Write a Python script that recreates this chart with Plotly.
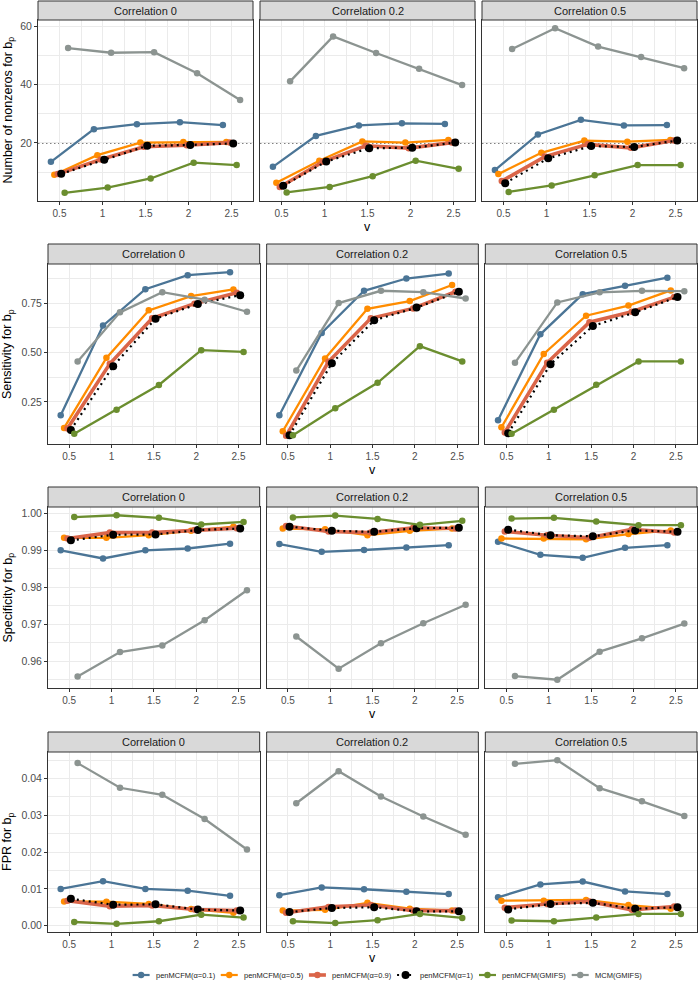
import plotly.graph_objects as go

W, H = 700, 990

v = [0.5, 1.0, 1.5, 2.0, 2.5]
methods = ["penMCFM(α=0.1)", "penMCFM(α=0.5)", "penMCFM(α=0.9)",
           "penMCFM(α=1)", "penMCFM(GMIFS)", "MCM(GMIFS)"]
correlations = ["Correlation 0", "Correlation 0.2", "Correlation 0.5"]
colors = ["#4B7596", "#FF8C00", "#DA6549", "#000000", "#6B8E2F", "#8C9491"]
dodge = [-0.1, -0.06, -0.02, 0.02, 0.06, 0.1]

# ---- Number of nonzeros for b_p (rows: methods, cols: v) ----
nonzeros_corr0 = [
    [13.5, 24.7, 26.4, 27.1, 26.1],
    [9.1, 15.8, 20.1, 20.3, 20.3],
    [9.3, 14.3, 18.7, 19.2, 20.1],
    [9.4, 14.2, 19.0, 19.3, 19.8],
    [2.9, 4.7, 7.8, 13.2, 12.4],
    [52.5, 50.9, 51.1, 43.9, 34.7],
]
nonzeros_corr02 = [
    [11.8, 22.4, 26.0, 26.7, 26.5],
    [6.3, 13.9, 20.5, 20.1, 21.0],
    [4.9, 13.5, 19.0, 18.2, 20.1],
    [5.3, 13.6, 18.2, 18.3, 20.1],
    [3.0, 4.9, 8.6, 13.9, 11.1],
    [41.1, 56.5, 50.8, 45.4, 39.8],
]
nonzeros_corr05 = [
    [10.7, 22.9, 27.9, 26.0, 26.1],
    [9.3, 16.6, 20.8, 20.4, 21.0],
    [6.9, 15.3, 19.5, 18.3, 20.8],
    [6.2, 14.7, 18.9, 18.6, 20.8],
    [3.2, 5.4, 8.9, 12.4, 12.4],
    [52.2, 59.3, 53.0, 49.4, 45.6],
]

# ---- Sensitivity for b_p ----
sens_corr0 = [
    [0.183, 0.636, 0.820, 0.891, 0.906],
    [0.119, 0.473, 0.713, 0.785, 0.819],
    [0.116, 0.443, 0.673, 0.747, 0.802],
    [0.109, 0.431, 0.671, 0.745, 0.790],
    [0.089, 0.211, 0.336, 0.512, 0.503],
    [0.455, 0.703, 0.805, 0.767, 0.706],
]
sens_corr02 = [
    [0.183, 0.599, 0.812, 0.874, 0.899],
    [0.102, 0.470, 0.721, 0.760, 0.841],
    [0.079, 0.453, 0.673, 0.723, 0.807],
    [0.082, 0.446, 0.663, 0.727, 0.807],
    [0.082, 0.218, 0.347, 0.532, 0.455],
    [0.409, 0.750, 0.812, 0.805, 0.773],
]
sens_corr05 = [
    [0.158, 0.592, 0.795, 0.837, 0.878],
    [0.122, 0.493, 0.686, 0.737, 0.814],
    [0.096, 0.448, 0.653, 0.706, 0.780],
    [0.092, 0.441, 0.634, 0.703, 0.780],
    [0.089, 0.211, 0.337, 0.455, 0.455],
    [0.448, 0.753, 0.804, 0.812, 0.810],
]

# ---- Specificity for b_p ----
spec_corr0 = [
    [0.9900, 0.9878, 0.9900, 0.9905, 0.9918],
    [0.9934, 0.9934, 0.9941, 0.9953, 0.9964],
    [0.9932, 0.9948, 0.9948, 0.9955, 0.9960],
    [0.9927, 0.9942, 0.9943, 0.9955, 0.9959],
    [0.9990, 0.9995, 0.9988, 0.9970, 0.9977],
    [0.9559, 0.9625, 0.9643, 0.9711, 0.9792],
]
spec_corr02 = [
    [0.9917, 0.9896, 0.9901, 0.9908, 0.9914],
    [0.9959, 0.9957, 0.9941, 0.9953, 0.9959],
    [0.9966, 0.9951, 0.9948, 0.9961, 0.9959],
    [0.9964, 0.9953, 0.9950, 0.9960, 0.9961],
    [0.9989, 0.9994, 0.9985, 0.9969, 0.9980],
    [0.9667, 0.9580, 0.9649, 0.9703, 0.9753],
]
spec_corr05 = [
    [0.9923, 0.9888, 0.9880, 0.9907, 0.9914],
    [0.9932, 0.9932, 0.9930, 0.9944, 0.9954],
    [0.9951, 0.9941, 0.9934, 0.9957, 0.9948],
    [0.9956, 0.9941, 0.9938, 0.9954, 0.9950],
    [0.9986, 0.9988, 0.9978, 0.9968, 0.9968],
    [0.9560, 0.9550, 0.9626, 0.9662, 0.9702],
]

# ---- FPR for b_p ----
fpr_corr0 = [
    [0.0100, 0.0121, 0.0100, 0.0095, 0.0081],
    [0.0066, 0.0065, 0.0059, 0.0045, 0.0035],
    [0.0068, 0.0053, 0.0055, 0.0044, 0.0041],
    [0.0073, 0.0057, 0.0058, 0.0044, 0.0041],
    [0.0010, 0.0005, 0.0012, 0.0030, 0.0022],
    [0.0442, 0.0375, 0.0356, 0.0290, 0.0207],
]
fpr_corr02 = [
    [0.0083, 0.0104, 0.0099, 0.0092, 0.0086],
    [0.0041, 0.0043, 0.0062, 0.0046, 0.0041],
    [0.0035, 0.0051, 0.0056, 0.0041, 0.0041],
    [0.0037, 0.0048, 0.0050, 0.0039, 0.0039],
    [0.0012, 0.0007, 0.0015, 0.0032, 0.0021],
    [0.0333, 0.0420, 0.0351, 0.0297, 0.0247],
]
fpr_corr05 = [
    [0.0077, 0.0112, 0.0120, 0.0093, 0.0086],
    [0.0068, 0.0068, 0.0070, 0.0056, 0.0046],
    [0.0049, 0.0059, 0.0066, 0.0043, 0.0052],
    [0.0044, 0.0059, 0.0062, 0.0046, 0.0050],
    [0.0014, 0.0012, 0.0022, 0.0032, 0.0032],
    [0.0440, 0.0450, 0.0374, 0.0338, 0.0298],
]

rows_data = [
    [nonzeros_corr0, nonzeros_corr02, nonzeros_corr05],
    [sens_corr0, sens_corr02, sens_corr05],
    [spec_corr0, spec_corr02, spec_corr05],
    [fpr_corr0, fpr_corr02, fpr_corr05],
]
y_titles = ["Number of nonzeros for b<sub>p</sub>", "Sensitivity for b<sub>p</sub>",
            "Specificity for b<sub>p</sub>", "FPR for b<sub>p</sub>"]
y_ticks = [
    dict(tick0=0, dtick=20, tickformat="d", minor_dtick=10),
    dict(tick0=0, dtick=0.25, tickformat=".2f", minor_dtick=0.125),
    dict(tick0=0, dtick=0.01, tickformat=".2f", minor_dtick=0.005),
    dict(tick0=0, dtick=0.01, tickformat=".2f", minor_dtick=0.005),
]
ref_line = [20, None, None, None]

# layout geometry (pixels)
strip_px = [(1, 20), (244, 264), (487, 507), (732, 752)]
plot_px = [(20, 201), (264, 444), (507, 688), (752, 932)]
left_px = [38, 48, 48, 48]
right_px = 697
gap_px = 7
vtitle_px = [227, 470, 714, 958]

xrange = [0.25, 2.75]

fig = go.Figure()
layout = dict(
    width=W, height=H, margin=dict(l=0, r=0, t=0, b=0),
    paper_bgcolor="white", plot_bgcolor="white", showlegend=False,
    font=dict(family="Liberation Sans, Arial, sans-serif", color="#1A1A1A"),
    shapes=[], annotations=[],
)

def ggrange(rowvals):
    vals = [y for panel in rowvals for series in panel for y in series]
    lo, hi = min(vals), max(vals)
    pad = 0.05 * (hi - lo)
    return [lo - pad, hi + pad]

grid = "#EBEBEB"
border = "#333333"

for r in range(4):
    yr = ggrange(rows_data[r])
    top, bot = plot_px[r]
    st, sb = strip_px[r]
    pw = (right_px - left_px[r] - 2 * gap_px) / 3
    for c in range(3):
        k = r * 3 + c + 1
        xn = "x" if k == 1 else f"x{k}"
        yn = "y" if k == 1 else f"y{k}"
        xl = left_px[r] + c * (pw + gap_px)
        xr = xl + pw
        layout["xaxis" if k == 1 else f"xaxis{k}"] = dict(
            domain=[xl / W, xr / W], anchor=yn, range=xrange,
            tick0=0.5, dtick=0.5, showgrid=True, gridcolor=grid, gridwidth=1.1,
            minor=dict(showgrid=True, gridcolor=grid, gridwidth=0.55, tick0=0.25, dtick=0.25),
            showline=True, mirror=True, linecolor=border, linewidth=1,
            ticks="outside", ticklen=3, tickcolor=border, tickwidth=1,
            tickfont=dict(size=10, color="#4D4D4D"), zeroline=False,
        )
        yt = y_ticks[r]
        layout["yaxis" if k == 1 else f"yaxis{k}"] = dict(
            domain=[1 - bot / H, 1 - top / H], anchor=xn, range=yr,
            tick0=yt["tick0"], dtick=yt["dtick"], tickformat=yt["tickformat"],
            showgrid=True, gridcolor=grid, gridwidth=1.1,
            minor=dict(showgrid=True, gridcolor=grid, gridwidth=0.55,
                       tick0=0, dtick=yt["minor_dtick"]),
            showline=True, mirror=True, linecolor=border, linewidth=1,
            ticks="outside" if c == 0 else "", ticklen=3, tickcolor=border,
            showticklabels=(c == 0),
            tickfont=dict(size=10.5, color="#4D4D4D"), zeroline=False,
        )
        # strip
        layout["shapes"].append(dict(
            type="rect", xref="paper", yref="paper",
            x0=xl / W, x1=xr / W, y0=1 - sb / H, y1=1 - st / H,
            fillcolor="#D9D9D9", line=dict(color=border, width=1), layer="above"))
        layout["annotations"].append(dict(
            text=correlations[c], xref="paper", yref="paper",
            x=(xl + xr) / 2 / W, y=1 - (st + sb) / 2 / H, showarrow=False,
            xanchor="center", yanchor="middle",
            font=dict(size=11, color="#1A1A1A")))
        if ref_line[r] is not None:
            layout["shapes"].append(dict(
                type="line", xref=f"{xn} domain", yref=yn, x0=0, x1=1,
                y0=ref_line[r], y1=ref_line[r],
                line=dict(color="black", width=1.1, dash="1.5px,2.5px"), layer="below"))
        if c == 1:
            layout["annotations"].append(dict(
                text="v", xref="paper", yref="paper",
                x=(xl + xr) / 2 / W, y=1 - vtitle_px[r] / H, showarrow=False,
                xanchor="center", yanchor="middle",
                font=dict(size=12.5, color="black")))
        # traces
        panel = rows_data[r][c]
        for m, name in enumerate(methods):
            is_black = (m == 3)
            lw = 3.6 if m == 2 else (2.2 if is_black else 2.3)
            fig.add_trace(go.Scatter(
                x=[vi + dodge[m] for vi in v], y=panel[m],
                mode="lines+markers", name=name, legendgroup=name,
                showlegend=False,
                line=dict(color=colors[m], width=lw,
                          dash="2px,4px" if is_black else "solid"),
                marker=dict(color=colors[m], size=8 if is_black else 6.5),
                xaxis=xn, yaxis=yn, hoverinfo="x+y+name",
            ))
    # y title
    layout["annotations"].append(dict(
        text=y_titles[r], xref="paper", yref="paper",
        x=8 / W, y=1 - (top + bot) / 2 / H, showarrow=False, textangle=-90,
        xanchor="center", yanchor="middle",
        font=dict(size=12.5, color="black")))

# ---- manual legend along the bottom (ggplot style) ----
leg_font = 7.5
leg_y = 975
key_w = 17
# approximate text widths (em units for Arial-like font)
em = {"p": .556, "e": .556, "n": .556, "M": .833, "C": .722, "F": .611, "(": .333,
      ")": .333, "α": .58, "=": .584, "0": .556, ".": .278, "1": .556, "5": .556,
      "9": .556, "G": .778, "I": .278, "S": .667}
widths = [sum(em.get(ch, .55) for ch in name) * leg_font for name in methods]
item_gap = 8
total = sum(key_w + 4 + w for w in widths) + item_gap * (len(methods) - 1)
x0 = 386 - total / 2
ly = 1 - leg_y / H
for m, name in enumerate(methods):
    is_black = (m == 3)
    lw = 3.6 if m == 2 else 2.2
    layout["shapes"].append(dict(
        type="line", xref="paper", yref="paper",
        x0=x0 / W, x1=(x0 + key_w) / W, y0=ly, y1=ly,
        line=dict(color=colors[m], width=lw, dash="2px,4px" if is_black else "solid")))
    rad = 4 if is_black else 3.2
    cx = x0 + key_w / 2
    layout["shapes"].append(dict(
        type="circle", xref="paper", yref="paper",
        x0=(cx - rad) / W, x1=(cx + rad) / W, y0=ly - rad / H, y1=ly + rad / H,
        fillcolor=colors[m], line=dict(color=colors[m], width=0)))
    layout["annotations"].append(dict(
        text=name, xref="paper", yref="paper", x=(x0 + key_w + 4) / W, y=ly,
        xanchor="left", yanchor="middle", showarrow=False,
        font=dict(size=leg_font, color="#1A1A1A")))
    x0 += key_w + 4 + widths[m] + item_gap

fig.update_layout(**layout)
fig.write_html("out.html")
